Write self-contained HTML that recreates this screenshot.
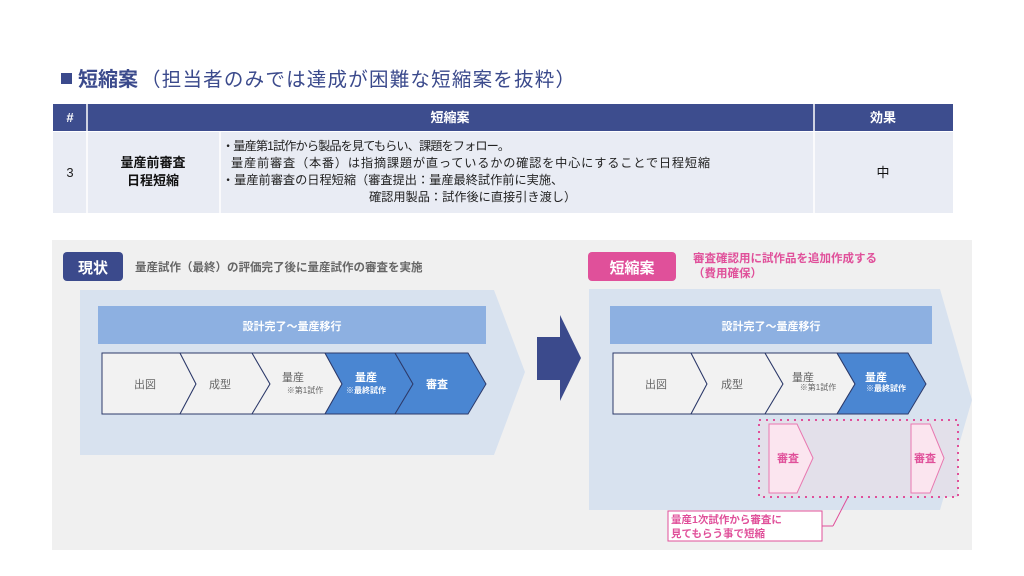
<!DOCTYPE html>
<html><head><meta charset="utf-8"><style>
html,body{margin:0;padding:0;background:#fff;}
svg{display:block;font-family:"Liberation Sans","Noto Sans CJK JP",sans-serif;}
</style></head><body>
<svg width="1024" height="576" viewBox="0 0 1024 576" xmlns="http://www.w3.org/2000/svg">
<rect width="1024" height="576" fill="#fff"/>
<!-- title -->
<rect x="61" y="73" width="11" height="11" fill="#3b4a8c"/>
<text x="78" y="86" font-size="20" font-weight="bold" fill="#3b4a8c">短縮案</text>
<text x="141" y="86" font-size="19.5" fill="#3b4a8c" textLength="434">（担当者のみでは達成が困難な短縮案を抜粋）</text>
<!-- table -->
<rect x="53" y="104" width="900" height="27" fill="#3d4d8e"/>
<line x1="87" y1="104" x2="87" y2="131" stroke="#fff" stroke-width="1.5"/>
<line x1="814" y1="104" x2="814" y2="131" stroke="#fff" stroke-width="1.5"/>
<g font-size="13" font-weight="bold" fill="#fff" text-anchor="middle">
<text x="70" y="122">#</text><text x="450" y="122">短縮案</text><text x="883" y="122">効果</text></g>
<rect x="53" y="132" width="900" height="81" fill="#e9ecf4"/>
<g stroke="#fff" stroke-width="1.5"><line x1="87" y1="132" x2="87" y2="213"/><line x1="220" y1="132" x2="220" y2="213"/><line x1="814" y1="132" x2="814" y2="213"/></g>
<text x="70" y="177" font-size="13" text-anchor="middle" fill="#222">3</text>
<text x="153" y="167" font-size="13" font-weight="bold" text-anchor="middle" fill="#111">量産前審査</text>
<text x="153" y="185" font-size="13" font-weight="bold" text-anchor="middle" fill="#111">日程短縮</text>
<text x="883" y="177" font-size="13" text-anchor="middle" fill="#111">中</text>
<g font-size="12.2" fill="#222">
<text x="222" y="150" textLength="288">・量産第1試作から製品を見てもらい、課題をフォロー。</text>
<text x="231" y="167" textLength="479">量産前審査（本番）は指摘課題が直っているかの確認を中心にすることで日程短縮</text>
<text x="222" y="184">・量産前審査の日程短縮（審査提出：量産最終試作前に実施、</text>
<text x="369" y="201">確認用製品：試作後に直接引き渡し）</text></g>
<!-- panel -->
<rect x="52" y="240" width="920" height="310" fill="#f0f0f0"/>
<!-- left -->
<rect x="63" y="252" width="60" height="29" rx="4" fill="#3b4a8c"/>
<text x="93" y="273" font-size="15" font-weight="bold" fill="#fff" text-anchor="middle">現状</text>
<text x="135" y="271" font-size="11.5" font-weight="bold" fill="#666">量産試作（最終）の評価完了後に量産試作の審査を実施</text>
<polygon points="80,290 494,290 525,372 494,455 80,455" fill="#d8e2ef"/>
<rect x="98" y="306" width="388" height="38" fill="#8db0e1"/>
<text x="292" y="330" font-size="11" font-weight="bold" fill="#fff" text-anchor="middle">設計完了～量産移行</text>
<g stroke="#2d3a6a" stroke-width="1">
<polygon points="102,353 180,353 196,384 180,414 102,414" fill="#f2f2f2"/>
<polygon points="180,353 252,353 270,384 252,414 180,414 196,384" fill="#f2f2f2"/>
<polygon points="252,353 325,353 342,384 325,414 252,414 270,384" fill="#f2f2f2"/>
<polygon points="325,353 395,353 413,384 395,414 325,414 342,384" fill="#4a86d2"/>
<polygon points="395,353 468,353 486,384 468,414 395,414 413,384" fill="#4a86d2"/></g>
<g font-size="11" fill="#666" text-anchor="middle">
<text x="145" y="388">出図</text><text x="220" y="388">成型</text><text x="293" y="381">量産</text>
<text x="305" y="393" font-size="8">※第1試作</text></g>
<g font-size="11" fill="#fff" font-weight="bold" text-anchor="middle">
<text x="366" y="381">量産</text><text x="366" y="393" font-size="8">※最終試作</text><text x="437" y="388">審査</text></g>
<!-- arrow -->
<polygon points="537,337 560,337 560,315 581,358 560,401 560,380 537,380" fill="#3b4a8c"/>
<!-- right -->
<rect x="588" y="252" width="88" height="29" rx="4" fill="#e0509a"/>
<text x="632" y="273" font-size="15" font-weight="bold" fill="#fff" text-anchor="middle">短縮案</text>
<text x="693" y="262" font-size="11.5" font-weight="bold" fill="#e0509a">審査確認用に試作品を追加作成する</text>
<text x="693" y="277" font-size="11.5" font-weight="bold" fill="#e0509a">（費用確保）</text>
<polygon points="589,289 940,289 972,400 940,510 589,510" fill="#d8e2ef"/>
<rect x="610" y="306" width="322" height="38" fill="#8db0e1"/>
<text x="771" y="330" font-size="11" font-weight="bold" fill="#fff" text-anchor="middle">設計完了～量産移行</text>
<g stroke="#2d3a6a" stroke-width="1">
<polygon points="613,353 691,353 707,384 691,414 613,414" fill="#f2f2f2"/>
<polygon points="691,353 765,353 783,384 765,414 691,414 707,384" fill="#f2f2f2"/>
<polygon points="765,353 837,353 855,384 837,414 765,414 783,384" fill="#f2f2f2"/>
<polygon points="837,353 908,353 926,384 908,414 837,414 855,384" fill="#4a86d2"/></g>
<g font-size="11" fill="#666" text-anchor="middle">
<text x="656" y="388">出図</text><text x="732" y="388">成型</text><text x="803" y="381">量産</text>
<text x="818" y="390" font-size="8">※第1試作</text></g>
<g font-size="11" fill="#fff" font-weight="bold" text-anchor="middle">
<text x="876" y="381">量産</text><text x="886" y="391" font-size="8">※最終試作</text></g>
<rect x="759" y="420" width="199" height="77" fill="#e3e0ea" stroke="#e0509a" stroke-width="2" stroke-dasharray="2,5"/>
<polygon points="769,424 797,424 813,458 797,493 769,493" fill="#fbe5ef" stroke="#e878b0"/>
<polygon points="911,424 930,424 944,458 930,493 911,493" fill="#fbe5ef" stroke="#e878b0"/>
<text x="788" y="462" font-size="11" font-weight="bold" fill="#e0509a" text-anchor="middle">審査</text>
<text x="925" y="462" font-size="11" font-weight="bold" fill="#e0509a" text-anchor="middle">審査</text>
<line x1="822" y1="526" x2="833" y2="526" stroke="#e0509a"/>
<line x1="833" y1="526" x2="848" y2="497" stroke="#e0509a"/>
<rect x="668" y="511" width="154" height="30" fill="#fff" stroke="#e0509a"/>
<text x="671" y="523" font-size="10.5" font-weight="bold" fill="#e0509a">量産1次試作から審査に</text>
<text x="671" y="537" font-size="10.5" font-weight="bold" fill="#e0509a">見てもらう事で短縮</text>
</svg>
</body></html>
